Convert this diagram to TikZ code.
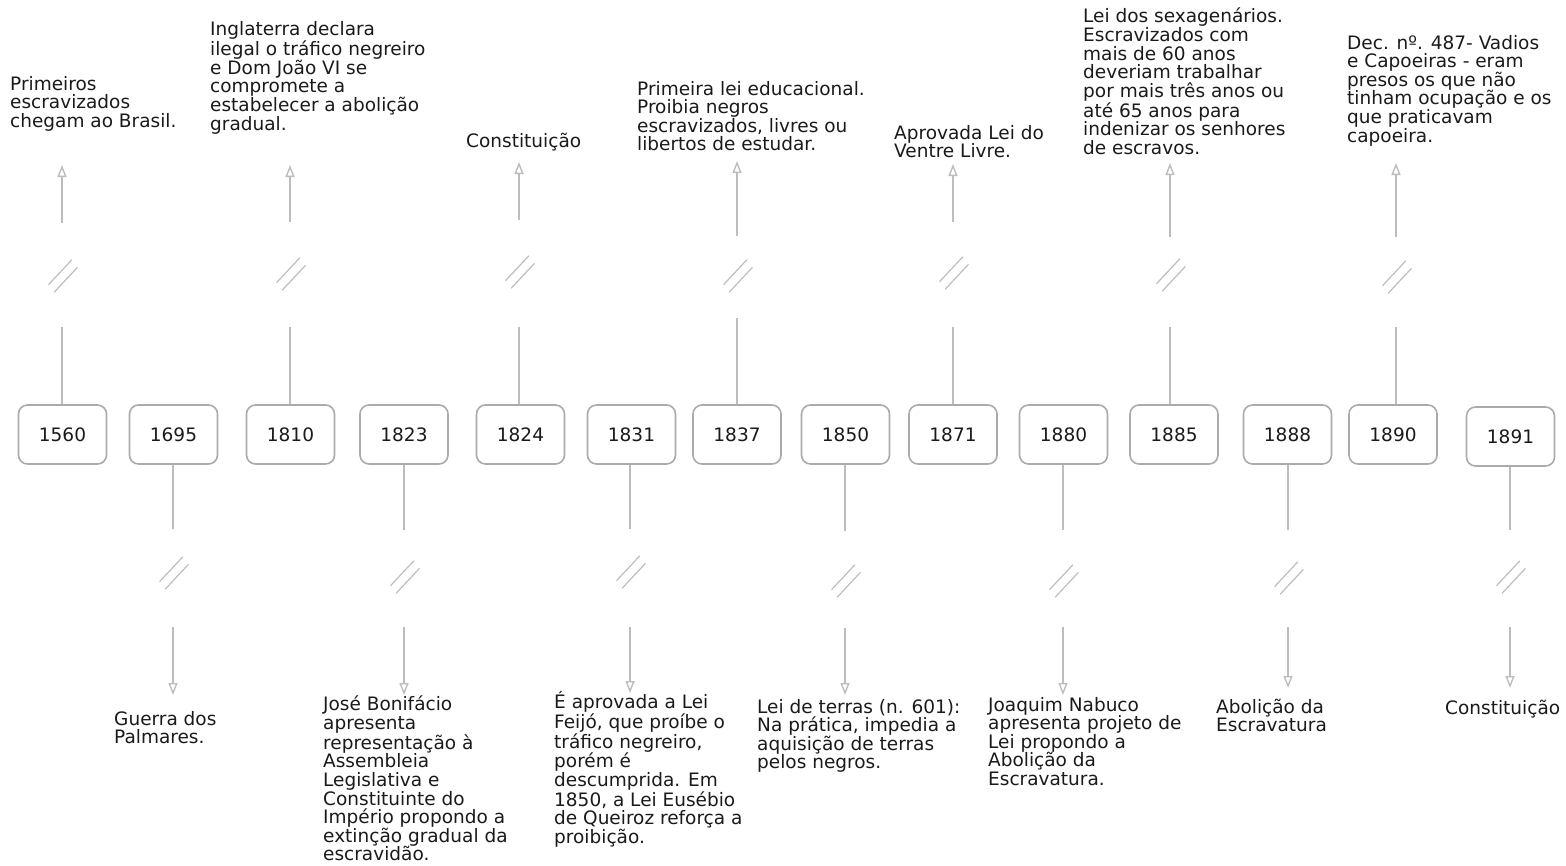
\documentclass[tikz,border=0pt]{standalone}
\usepackage{fontspec}
\setmainfont{DejaVu Sans}
\usetikzlibrary{arrows.meta}
\definecolor{linec}{HTML}{BDBDBD}
\definecolor{boxc}{HTML}{ABABAB}
\definecolor{txtc}{HTML}{1A1A1A}
\newcommand{\tlfont}{\fontsize{18.5pt}{18.6pt}\selectfont}
\tikzset{
  year/.style={draw=boxc, line width=1.6pt, rounded corners=9pt, minimum width=88pt,
    minimum height=59pt, inner sep=0pt, font=\tlfont, text=txtc, fill=white},
  note/.style={anchor=base west, align=left, inner sep=0pt, font=\tlfont, text=txtc},
  conn/.style={draw=linec, line width=1.4pt},
  arr/.style={conn, -{Triangle[open, length=12pt, width=9pt]}},
  brk/.style={draw=linec, line width=1.2pt},
  brkmark/.pic={
    \draw[brk] (-14.5,8.7) -- (8.9,-16.3);
    \draw[brk] (-8.9,16.3) -- (14.5,-8.7);
  }
}
\begin{document}
\begin{tikzpicture}[x=1pt, y=-1pt]
\useasboundingbox (0,0) rectangle (1566,865);

% year boxes
\node[year] (y1560) at (62.5,434.5) {1560};
\node[year] (y1695) at (173.5,434.5) {1695};
\node[year] (y1810) at (290.5,434.5) {1810};
\node[year] (y1823) at (404,434.5) {1823};
\node[year] (y1824) at (520.5,434.5) {1824};
\node[year] (y1831) at (631.5,434.5) {1831};
\node[year] (y1837) at (737,434.5) {1837};
\node[year] (y1850) at (845.5,434.5) {1850};
\node[year] (y1871) at (953,434.5) {1871};
\node[year] (y1880) at (1063.5,434.5) {1880};
\node[year] (y1885) at (1174,434.5) {1885};
\node[year] (y1888) at (1287.5,434.5) {1888};
\node[year] (y1890) at (1393,434.5) {1890};
\node[year] (y1891) at (1510.5,436.5) {1891};

% texts above (anchor = baseline of last line)
\node[note] (t1560) at (10,127.2) {Primeiros\\escravizados\\chegam ao Brasil.};
\node[note] (t1810) at (210,130) {Inglaterra declara\\ilegal o tráfico negreiro\\e Dom João VI se\\compromete a\\estabelecer a abolição\\gradual.};
\node[note] (t1824) at (466,147) {Constituição};
\node[note] (t1837) at (637,150.8) {Primeira lei educacional.\\Proibia negros\\escravizados, livres ou\\libertos de estudar.};
\node[note] (t1871) at (894,157.6) {Aprovada Lei do\\Ventre Livre.};
\node[note] (t1885) at (1083,154.2) {Lei dos sexagenários.\\Escravizados com\\mais de 60 anos\\deveriam trabalhar\\por mais três anos ou\\até 65 anos para\\indenizar os senhores\\de escravos.};
\node[note] (t1890) at (1347,142) {Dec. nº. 487- Vadios\\e Capoeiras - eram\\presos os que não\\tinham ocupação e os\\que praticavam\\capoeira.};

% texts below
\node[note] (t1695) at (114,743.6) {Guerra dos\\Palmares.};
\node[note] (t1823) at (323,860.8) {José Bonifácio\\apresenta\\representação à\\Assembleia\\Legislativa e\\Constituinte do\\Império propondo a\\extinção gradual da\\escravidão.};
\node[note] (t1831) at (554,843.2) {É aprovada a Lei\\Feijó, que proíbe o\\tráfico negreiro,\\porém é\\descumprida. Em\\1850, a Lei Eusébio\\de Queiroz reforça a\\proibição.};
\node[note] (t1850) at (757,768.8) {Lei de terras (n. 601):\\Na prática, impedia a\\aquisição de terras\\pelos negros.};
\node[note] (t1880) at (988,785.4) {Joaquim Nabuco\\apresenta projeto de\\Lei propondo a\\Abolição da\\Escravatura.};
\node[note] (t1888) at (1216,731.6) {Abolição da\\Escravatura};
\node[note] (t1891) at (1445,714) {Constituição};

% upward connectors: box / x / lower-seg top / break centre / upper-seg bottom / tip
\foreach \b/\x/\ya/\yc/\yb/\yt in {
  y1560/62/327/276/223/165,
  y1810/290/327/274/222/165,
  y1824/519/327/272/220/162,
  y1837/737/318/276/236/161,
  y1871/953/327/273/222/164,
  y1885/1170/327/275/237/163,
  y1890/1396/327/277/237/163}{
  \coordinate (\b a) at (\x,\ya);
  \coordinate (\b b) at (\x,\yb);
  \coordinate (\b t) at (\x,\yt);
  \draw[conn] (\b.north -| \b a) -- (\b a);
  \pic at (\x+1,\yc) {brkmark};
  \draw[arr] (\b b) -- (\b t);
}

% downward connectors
\foreach \b/\x/\ya/\yc/\yb/\yt in {
  y1695/173/529/573/627/695,
  y1823/404/530/577/627/695,
  y1831/630/529/572/627/693,
  y1850/845/531/581/628/695,
  y1880/1063/530/581/627/695,
  y1888/1288/530/578/627/688,
  y1891/1510/530/577/627/688}{
  \coordinate (\b a) at (\x,\ya);
  \coordinate (\b b) at (\x,\yb);
  \coordinate (\b t) at (\x,\yt);
  \draw[conn] (\b.south -| \b a) -- (\b a);
  \pic at (\x+1,\yc) {brkmark};
  \draw[arr] (\b b) -- (\b t);
}
\end{tikzpicture}
\end{document}
